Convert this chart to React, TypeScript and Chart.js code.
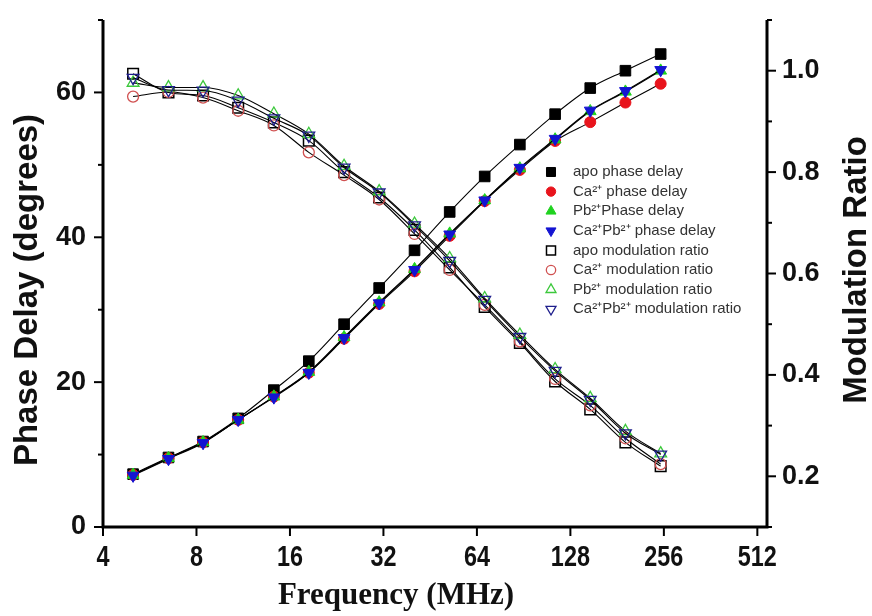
import React, { useEffect, useRef } from 'react';
import { Chart, registerables } from 'chart.js';
import { drawPoint } from 'chart.js/helpers';

Chart.register(...registerables);

// ---------- data ----------
const frequencies = [5, 6.5, 8.4, 10.9, 14.2, 18.4, 23.9, 31.0, 40.3, 52.3, 67.8, 88.0, 114.3, 148.3, 192.5, 250];

const xTickValues = [4, 8, 16, 32, 64, 128, 256, 512];
const leftMajorTicks = [0, 20, 40, 60];
const leftMinorTicks = [10, 30, 50, 70];
const rightMajorTicks = [0.2, 0.4, 0.6, 0.8, 1.0];
const rightMinorTicks = [0.1, 0.3, 0.5, 0.7, 0.9, 1.1];

const apoPhase = [7.3, 9.6, 11.8, 15.0, 18.9, 22.9, 28.0, 33.0, 38.2, 43.5, 48.4, 52.8, 57.0, 60.6, 63.0, 65.3];
const caPhase = [7.2, 9.5, 11.7, 14.8, 18.0, 21.3, 26.0, 30.8, 35.3, 40.2, 45.0, 49.3, 53.3, 55.9, 58.6, 61.2];
const pbPhase = [7.2, 9.5, 11.7, 14.8, 18.0, 21.4, 26.2, 31.0, 35.6, 40.5, 45.1, 49.5, 53.5, 57.4, 60.1, 63.0];
const caPbPhase = [7.1, 9.4, 11.6, 14.8, 17.9, 21.3, 26.1, 30.9, 35.5, 40.4, 45.1, 49.6, 53.6, 57.5, 60.2, 63.1];

const apoMod = [0.994, 0.957, 0.951, 0.927, 0.898, 0.862, 0.800, 0.750, 0.686, 0.612, 0.534, 0.463, 0.387, 0.332, 0.267, 0.220];
const caMod = [0.949, 0.958, 0.947, 0.921, 0.892, 0.839, 0.794, 0.746, 0.678, 0.607, 0.538, 0.466, 0.392, 0.340, 0.275, 0.224];
const pbMod = [0.976, 0.967, 0.967, 0.951, 0.915, 0.875, 0.812, 0.762, 0.698, 0.630, 0.551, 0.479, 0.411, 0.354, 0.289, 0.245];
const caPbMod = [0.986, 0.962, 0.961, 0.941, 0.906, 0.872, 0.809, 0.760, 0.695, 0.625, 0.548, 0.475, 0.408, 0.351, 0.285, 0.243];

const seriesLabels = [
  'apo phase delay',
  'Ca\u00B2\u207A phase delay',
  'Pb\u00B2\u207APhase delay',
  'Ca\u00B2\u207APb\u00B2\u207A phase delay',
  'apo modulation ratio',
  'Ca\u00B2\u207A modulation ratio',
  'Pb\u00B2\u207A modulation ratio',
  'Ca\u00B2\u207APb\u00B2\u207A modulation ratio',
];

const xTitle = 'Frequency (MHz)';
const leftTitle = 'Phase Delay (degrees)';
const rightTitle = 'Modulation Ratio';

// ---------- styles ----------
const RED = '#e8141c';
const GREEN = '#1fd21f';
const BLUE = '#1414d2';
const OPEN_RED = '#d05050';
const OPEN_GREEN = '#3cc83c';
const OPEN_BLUE = '#1e1e8c';

type Style = { pointStyle: string; rotation: number; radius: number; fill: string; stroke: string; bw: number };
const styles: Style[] = [
  { pointStyle: 'rect', rotation: 0, radius: 7.5, fill: '#000', stroke: '#000', bw: 1 },
  { pointStyle: 'circle', rotation: 0, radius: 5.5, fill: RED, stroke: RED, bw: 1 },
  { pointStyle: 'triangle', rotation: 0, radius: 6.8, fill: GREEN, stroke: GREEN, bw: 1 },
  { pointStyle: 'triangle', rotation: 180, radius: 6.8, fill: BLUE, stroke: BLUE, bw: 1 },
  { pointStyle: 'rect', rotation: 0, radius: 7.5, fill: 'rgba(0,0,0,0)', stroke: '#000', bw: 1.5 },
  { pointStyle: 'circle', rotation: 0, radius: 5.5, fill: 'rgba(0,0,0,0)', stroke: OPEN_RED, bw: 1.3 },
  { pointStyle: 'triangle', rotation: 0, radius: 6.8, fill: 'rgba(0,0,0,0)', stroke: OPEN_GREEN, bw: 1.3 },
  { pointStyle: 'triangle', rotation: 180, radius: 6.8, fill: 'rgba(0,0,0,0)', stroke: OPEN_BLUE, bw: 1.3 },
];

const seriesValues = [apoPhase, caPhase, pbPhase, caPbPhase, apoMod, caMod, pbMod, caPbMod];
const drawOrder = [4, 3, 2, 1, 8, 7, 6, 5];

const decorPlugin = {
  id: 'decor',
  afterDraw(chart: any) {
    const { ctx, chartArea, scales } = chart;
    const { left, right, top, bottom } = chartArea;
    ctx.save();
    ctx.strokeStyle = '#000';
    ctx.lineCap = 'butt';
    // axis lines
    ctx.lineWidth = 3;
    ctx.beginPath();
    ctx.moveTo(left, top);
    ctx.lineTo(left, bottom);
    ctx.lineTo(right, bottom);
    ctx.lineTo(right, top);
    ctx.stroke();
    // ticks
    ctx.lineWidth = 2;
    const tickX = (v: number, len: number) => {
      const px = scales.x.getPixelForValue(v);
      ctx.beginPath();
      ctx.moveTo(px, bottom);
      ctx.lineTo(px, bottom + len);
      ctx.stroke();
    };
    const tickL = (v: number, len: number) => {
      const py = scales.y.getPixelForValue(v);
      ctx.beginPath();
      ctx.moveTo(left, py);
      ctx.lineTo(left - len, py);
      ctx.stroke();
    };
    const tickR = (v: number, len: number) => {
      const py = scales.y2.getPixelForValue(v);
      ctx.beginPath();
      ctx.moveTo(right, py);
      ctx.lineTo(right + len, py);
      ctx.stroke();
    };
    xTickValues.forEach((v) => tickX(v, 9));
    leftMajorTicks.forEach((v) => tickL(v, 9));
    leftMinorTicks.forEach((v) => tickL(v, 5));
    rightMajorTicks.forEach((v) => tickR(v, 9));
    rightMinorTicks.forEach((v) => tickR(v, 5));

    // x tick labels (narrow bold)
    ctx.fillStyle = '#111';
    ctx.textAlign = 'center';
    ctx.textBaseline = 'middle';
    ctx.font = 'bold 30px "Liberation Sans", Arial, sans-serif';
    xTickValues.forEach((v) => {
      const px = scales.x.getPixelForValue(v);
      ctx.save();
      ctx.translate(px, bottom + 31);
      ctx.scale(0.78, 1);
      ctx.fillText(String(v), 0, 0);
      ctx.restore();
    });

    // axis titles
    ctx.font = 'bold 31px "Liberation Serif", "Times New Roman", serif';
    ctx.fillText(xTitle, 396, 596);

    ctx.font = 'bold 33px "Liberation Sans", Arial, sans-serif';
    ctx.save();
    ctx.translate(28, 290);
    ctx.rotate(-Math.PI / 2);
    ctx.fillText(leftTitle, 0, 0);
    ctx.restore();

    ctx.save();
    ctx.translate(857, 270);
    ctx.rotate(-Math.PI / 2);
    ctx.fillText(rightTitle, 0, 0);
    ctx.restore();

    // legend
    const lx = 551;
    const tx = 573;
    const ly0 = 172;
    const step = 19.6;
    ctx.font = '15px "Liberation Sans", Arial, sans-serif';
    ctx.textAlign = 'left';
    seriesLabels.forEach((label, i) => {
      const s = styles[i];
      const y = ly0 + i * step;
      ctx.fillStyle = s.fill;
      ctx.strokeStyle = s.stroke;
      ctx.lineWidth = s.bw;
      drawPoint(ctx, { pointStyle: s.pointStyle as any, rotation: s.rotation, radius: s.radius * 0.85, borderWidth: s.bw }, lx, y);
      ctx.fillStyle = '#333';
      ctx.fillText(label, tx, y);
    });
    ctx.restore();
  },
};

export default function App() {
  const canvasRef = useRef<HTMLCanvasElement | null>(null);

  useEffect(() => {
    if (!canvasRef.current) return;
    const datasets = seriesValues.map((vals, i) => {
      const s = styles[i];
      return {
        label: seriesLabels[i],
        data: vals.map((v, k) => ({ x: frequencies[k], y: v })),
        yAxisID: i < 4 ? 'y' : 'y2',
        showLine: true,
        borderColor: '#000',
        borderWidth: 1.1,
        cubicInterpolationMode: 'monotone',
        pointStyle: s.pointStyle,
        pointRotation: s.rotation,
        pointRadius: s.radius,
        pointBackgroundColor: s.fill,
        pointBorderColor: s.stroke,
        pointBorderWidth: s.bw,
        order: drawOrder[i],
        clip: false,
      };
    });

    const tickFont = { family: '"Liberation Sans", Arial, sans-serif', size: 27, weight: 'bold' as const };
    const noPadV = (s: any, w: number) => {
      s.width = w;
      s.paddingTop = 0;
      s.paddingBottom = 0;
    };

    const chart = new Chart(canvasRef.current, {
      type: 'line',
      data: { datasets: datasets as any },
      plugins: [decorPlugin],
      options: {
        animation: false,
        responsive: false,
        layout: { padding: { top: 20, left: 0, right: 0, bottom: 0 } },
        plugins: { legend: { display: false }, tooltip: { enabled: false } },
        scales: {
          x: {
            type: 'logarithmic',
            position: 'bottom',
            min: 4,
            max: 550,
            afterBuildTicks: (s: any) => {
              s.ticks = xTickValues.map((v) => ({ value: v }));
            },
            afterFit: (s: any) => {
              s.height = 89;
              s.paddingLeft = 0;
              s.paddingRight = 0;
            },
            grid: { display: false, drawTicks: false, tickLength: 0 },
            border: { display: false },
            ticks: { display: false },
          },
          y: {
            type: 'linear',
            position: 'left',
            min: 0,
            max: 70,
            afterBuildTicks: (s: any) => {
              s.ticks = leftMajorTicks.map((v) => ({ value: v }));
            },
            afterFit: (s: any) => noPadV(s, 103),
            grid: { display: false, drawTicks: false, tickLength: 0 },
            border: { display: false },
            ticks: { padding: 17, color: '#111', font: tickFont, callback: (v: any) => String(v) },
          },
          y2: {
            type: 'linear',
            position: 'right',
            min: 0.1,
            max: 1.1,
            afterBuildTicks: (s: any) => {
              s.ticks = rightMajorTicks.map((v) => ({ value: v }));
            },
            afterFit: (s: any) => noPadV(s, 105),
            grid: { display: false, drawTicks: false, tickLength: 0 },
            border: { display: false },
            ticks: { padding: 15, color: '#111', font: tickFont, callback: (v: any) => Number(v).toFixed(1) },
          },
        },
      } as any,
    });
    return () => chart.destroy();
  }, []);

  return (
    <div style={{ position: 'fixed', left: 0, top: 0, width: 872, height: 616, background: '#fff' }}>
      <canvas ref={canvasRef} width={872} height={616} style={{ width: 872, height: 616, display: 'block' }} />
    </div>
  );
}
